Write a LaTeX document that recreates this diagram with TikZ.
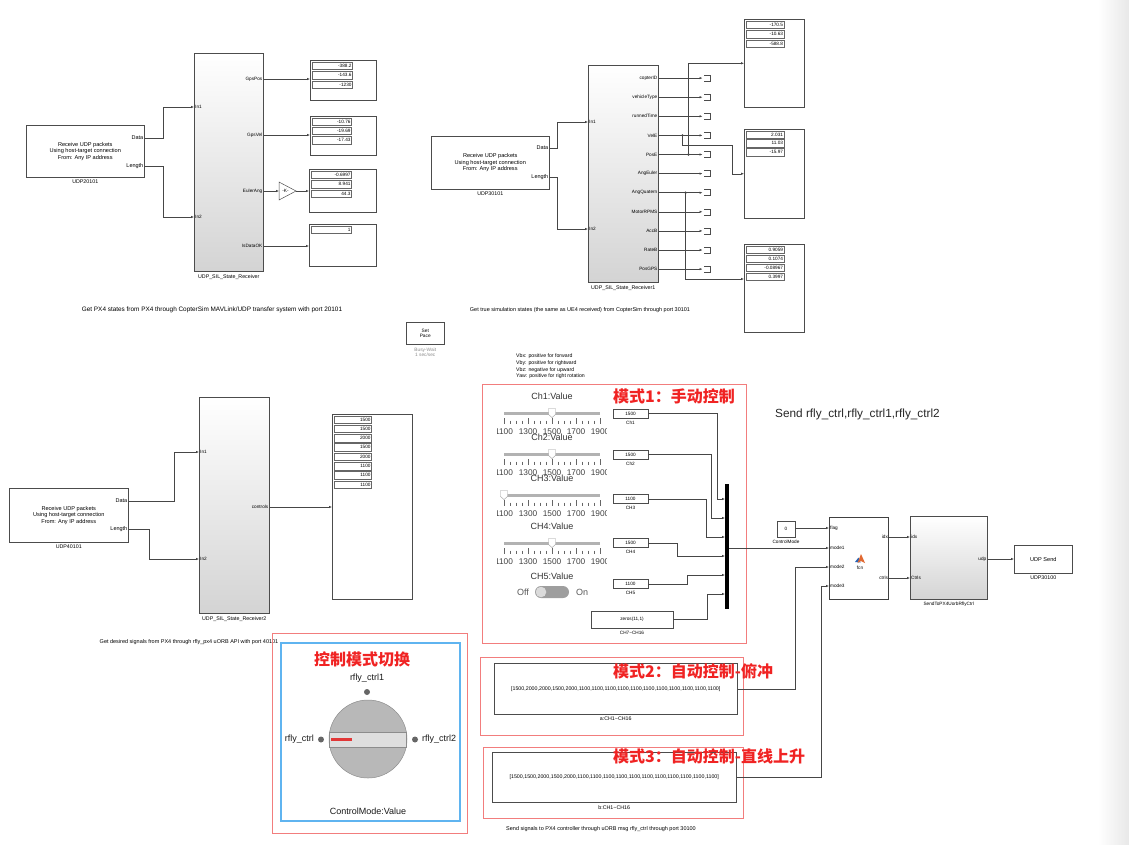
\documentclass[tikz,border=0pt]{standalone}
\usepackage{fontspec}
\setmainfont{Liberation Sans}
\newfontfamily\cjk{Noto Sans CJK SC}
\usetikzlibrary{arrows.meta,calc}
\definecolor{panelred}{RGB}{242,125,125}
\definecolor{titlered}{RGB}{240,35,35}
\definecolor{knobblue}{RGB}{95,180,240}
\definecolor{wiregray}{RGB}{70,70,70}
\definecolor{matorange}{RGB}{225,105,50}
\definecolor{matblue}{RGB}{40,100,180}
\definecolor{knobred}{RGB}{225,55,55}

\begin{document}
\begin{tikzpicture}[x=1pt, y=-1pt, >={Latex[length=3pt,width=2.4pt]}]
\tikzset{
  blk/.style={draw=black!70, line width=0.5pt, fill=white, inner sep=0pt, anchor=north west, align=center, font=\fontsize{5.6}{6.5}\selectfont},
  rcv/.style={blk, top color=white, middle color=white, bottom color=black!17},
  disp/.style={draw=black!70, line width=0.5pt, inner sep=0pt, anchor=north west},
  cell/.style={draw=black!60, line width=0.4pt, inner sep=0.8pt, text width=#1pt, minimum height=7.5pt, align=right, anchor=north west, font=\fontsize{4.7}{4.7}\selectfont},
  pin/.style={inner sep=1pt, anchor=west, font=\fontsize{4.7}{4.7}\selectfont},
  pout/.style={inner sep=1pt, anchor=east, font=\fontsize{4.7}{4.7}\selectfont},
  udpport/.style={pout, font=\fontsize{5.5}{5.5}\selectfont},
  lbl/.style={font=\fontsize{5.3}{6}\selectfont, inner sep=0pt, anchor=north},
  note/.style={font=\fontsize{5.5}{6.5}\selectfont, inner sep=0pt},
  wire/.style={draw=wiregray, line width=0.5pt},
  const/.style={blk, anchor=center, font=\fontsize{4.7}{4.7}\selectfont},
  panel/.style={draw=panelred, line width=0.8pt},
  redtitle/.style={text=titlered, font=\cjk\bfseries\fontsize{16}{16}\selectfont, inner sep=0pt, anchor=west},
  dashtxt/.style={font=\fontsize{9}{9}\selectfont, inner sep=0pt, text=black!80},
  ticktxt/.style={font=\fontsize{8.3}{8.3}\selectfont, inner sep=0pt, text=black!75},
  dot/.style={fill=black!60},
  junc/.style={fill=wiregray},
}
\useasboundingbox (0,0) rectangle (1129,844);
\shade[left color=white, right color=black!9] (1098,0) rectangle (1129,844);

% ---- PX4 states, port 20101
\node[blk, minimum width=118pt, minimum height=52pt] (udpA) at (26,125) {Receive UDP packets\\Using host-target connection\\From: Any IP address};
\node[lbl] at ($(udpA.south)+(0,2.5)$) {UDP20101};
\node[udpport] (pDataA) at (udpA.east |- 0,138) {Data};
\node[udpport] (pLenA) at (udpA.east |- 0,166) {Length};
\node[rcv, minimum width=69pt, minimum height=218pt] (rxA) at (194,53) {};
\node[lbl] at ($(rxA.south)+(0,2.5)$) {UDP\_SIL\_State\_Receiver};
\node[pin] (pIn1A) at (rxA.west |- 0,107) {In1};
\node[pin] (pIn2A) at (rxA.west |- 0,217) {In2};
\foreach \nm/\yy in {GpsPos/79, GpsVel/135, EulerAng/191, IsDataOK/246}
  \node[pout] (p\nm) at (rxA.east |- 0,\yy) {\nm};
\draw[wire,->] (pDataA.east) -- ++(19,0) |- (pIn1A.west);
\draw[wire,->] (pLenA.east) -- ++(19,0) |- (pIn2A.west);

\node[disp, minimum width=66pt, minimum height=40pt] (dA1) at (310,60) {};
\node[disp, minimum width=66pt, minimum height=39pt] (dA2) at (310,116) {};
\node[disp, minimum width=67pt, minimum height=43pt] (dA3) at (309,169) {};
\node[disp, minimum width=67pt, minimum height=42pt] (dA4) at (309,224) {};

\draw[black!70, line width=0.5pt, fill=white] (279,182) -- (296,191) -- (279,200) -- cycle;
\node[font=\fontsize{4.7}{4.7}\selectfont, inner sep=0pt] (gainA) at (285.5,191) {-K-};
\coordinate (gainIn) at (279,191);
\coordinate (gainOut) at (296,191);

\draw[wire,->] (pGpsPos.east) -- (pGpsPos.east -| dA1.west);
\draw[wire,->] (pGpsVel.east) -- (pGpsVel.east -| dA2.west);
\draw[wire,->] (pEulerAng.east) -- (gainIn);
\draw[wire,->] (gainOut) -- (gainOut -| dA3.west);
\draw[wire,->] (pIsDataOK.east) -- (pIsDataOK.east -| dA4.west);
\node[note, font=\fontsize{6.4}{7}\selectfont] (capA) at (212,310) {Get PX4 states from PX4 through CopterSim MAVLink/UDP transfer system with port 20101};

% ---- true states, port 30101
\node[blk, minimum width=118pt, minimum height=53pt] (udpB) at (431,136) {Receive UDP packets\\Using host-target connection\\From: Any IP address};
\node[lbl] at ($(udpB.south)+(0,2.5)$) {UDP30101};
\node[udpport] (pDataB) at (udpB.east |- 0,148) {Data};
\node[udpport] (pLenB) at (udpB.east |- 0,177) {Length};
\node[rcv, minimum width=70pt, minimum height=217pt] (rxB) at (588,65) {};
\node[lbl] at ($(rxB.south)+(0,2.5)$) {UDP\_SIL\_State\_Receiver1};
\node[pin] (pIn1B) at (rxB.west |- 0,122) {In1};
\node[pin] (pIn2B) at (rxB.west |- 0,229) {In2};
\draw[wire,->] (pDataB.east) -- ++(8,0) |- (pIn1B.west);
\draw[wire,->] (pLenB.east) -- ++(8,0) |- (pIn2B.west);
\foreach \nm [count=\i] in {copterID, vehicleType, runnedTime, VelE, PosE, AngEuler, AngQuatern, MotorRPMS, AccB, RateB, PosGPS} {
  \pgfmathsetmacro\yy{59+19.1*\i}
  \node[pout] (p\nm) at (rxB.east |- 0,\yy) {\nm};
  \coordinate (t\nm) at ($(p\nm.east)+(44,0)$);
  \draw[wire,->] (p\nm.east) -- (t\nm);
  \draw[black!70, line width=0.5pt] ($(t\nm)+(1.5,-3)$) -- ++(6,0) -- ++(0,6) -- ++(-6,0);
}
\node[disp, minimum width=60pt, minimum height=88pt] (dB1) at (744,19) {};
\node[disp, minimum width=60pt, minimum height=89pt] (dB2) at (744,129) {};
\node[disp, minimum width=60pt, minimum height=88pt] (dB3) at (744,244) {};
\coordinate (jPos) at ($(pPosE.east)+(30,0)$);
\coordinate (jVel) at ($(pVelE.east)+(24,0)$);
\coordinate (jQuat) at ($(pAngQuatern.east)+(27,0)$);
\draw[wire,->] (jPos) |- (dB1.west);
\draw[wire,->] (jVel) -- ++(0,10) -- ++(50,0) |- (dB2.west);
\draw[wire,->] (jQuat) |- (dB3.west |- 0,279);
\foreach \j in {jPos,jVel,jQuat} \fill[junc] (\j) circle (1.3);
\node[note] (capB) at (580,310) {Get true simulation states (the same as UE4 received) from CopterSim through port 30101};

\node[blk, minimum width=38pt, minimum height=22pt, font=\fontsize{4.8}{5.2}\selectfont] (pace) at (406,322) {Set\\Pace};
\node[lbl, text=black!45, align=center, font=\fontsize{4.8}{5.8}\selectfont] at ($(pace.south)+(0,3)$) {Busy-Wait\\1 sec/sec};

% ---- desired signals, port 40101
\node[blk, minimum width=119pt, minimum height=54pt] (udpC) at (9,488) {Receive UDP packets\\Using host-target connection\\From: Any IP address};
\node[lbl] at ($(udpC.south)+(0,2.5)$) {UDP40101};
\node[udpport] (pDataC) at (udpC.east |- 0,501) {Data};
\node[udpport] (pLenC) at (udpC.east |- 0,529) {Length};
\node[rcv, minimum width=70pt, minimum height=216pt] (rxC) at (199,397) {};
\node[lbl] at ($(rxC.south)+(0,2.5)$) {UDP\_SIL\_State\_Receiver2};
\node[pin] (pIn1C) at (rxC.west |- 0,452) {In1};
\node[pin] (pIn2C) at (rxC.west |- 0,559) {In2};
\node[pout] (pControls) at (rxC.east |- 0,507) {controls};
\draw[wire,->] (pDataC.east) -- ++(46,0) |- (pIn1C.west);
\draw[wire,->] (pLenC.east) -- ++(21,0) |- (pIn2C.west);
\node[disp, minimum width=80pt, minimum height=185pt] (dC) at (332,414) {};
\draw[wire,->] (pControls.east) -- (pControls.east -| dC.west);
\node[note] (capC) at (189,642) {Get desired signals from PX4 through rfly\_px4 uORB API with port 40101};

% display values
\foreach \d/\w/\dy/\vals in {dA1/39/9.6/{-388.2,-143.6,-1230}, dA2/38/9.3/{-10.76,-19.69,-17.43}, dA3/39/9.6/{-0.6997,8.941,44.3}, dA4/39/9.5/{1},
    dB1/36.5/9.5/{-170.5,-10.63,-588.8}, dB2/36.5/8.8/{2.031,11.03,-15.97}, dB3/36.5/9/{0.9059,0.1074,-0.08967,0.3997},
    dC/36/9.3/{1500,1500,2000,1500,2000,1100,1100,1100}}
  \foreach \v [count=\i] in \vals
    \node[cell=\w] at ($(\d.north west)+(1.5,{1.5+\dy*(\i-1)})$) {\v};

% ---- mode 1: manual
\node[font=\fontsize{5.2}{6.6}\selectfont, align=left, anchor=north west, inner sep=0pt] (vnote) at (516,354) {Vbx: positive for forward\\Vby: positive for rightward\\Vbz: negative for upward\\Yaw: positive for right rotation};
\draw[panel] (482,384) rectangle (746,643);
\node[redtitle] (tMode1) at (613,396) {模式1：手动控制};
\foreach \nm/\ty/\tv in {Ch1/396/1500, Ch2/437/1500, CH3/478/1100, CH4/526/1500} {
  \pgfmathsetmacro\thx{504+(\tv-1100)*0.12}
  \node[dashtxt] (s\nm) at (552,\ty) {\nm:Value};
  \draw[line width=3pt, black!30] (504,\ty+17) -- (600,\ty+17);
  \draw[fill=white, draw=black!40, line width=0.4pt] (\thx-3.5,\ty+12.5) -- (\thx+3.5,\ty+12.5) -- (\thx+3.5,\ty+18.5) -- (\thx,\ty+21.5) -- (\thx-3.5,\ty+18.5) -- cycle;
  \foreach \k in {0,...,16} {
    \pgfmathsetmacro\tkh{ifthenelse(mod(\k,4)==0,22,24.5)}
    \draw[black!60, line width=0.4pt] (504+6*\k,\ty+\tkh) -- (504+6*\k,\ty+28);
  }
  \begin{scope}
    \clip (497,\ty+30) rectangle (606.5,\ty+42);
    \foreach \k in {0,...,4} {
      \pgfmathtruncatemacro\tl{1100+200*\k}
      \node[ticktxt] at (504+24*\k,\ty+36) {\tl};
    }
  \end{scope}
}
\node[dashtxt] (sCH5) at (552,576) {CH5:Value};
\node[dashtxt, text=black!65] (tOff) at (523,592) {Off};
\node[dashtxt, text=black!65] (tOn) at (582,592) {On};
\fill[black!38, rounded corners=6pt] (535,586) rectangle (569,598);
\fill[black!14] (541,592) circle (5.3);

\foreach \nm/\val/\yy in {Ch1/1500/413.5, Ch2/1500/454.5, CH3/1100/499, CH4/1500/543, CH5/1100/584} {
  \node[const, minimum width=35pt, minimum height=9pt] (c\nm) at (630.5,\yy) {\val};
  \node[lbl, font=\fontsize{4.7}{5}\selectfont] at ($(c\nm.south)+(0,2.5)$) {\nm};
}
\node[const, minimum width=82pt, minimum height=17pt] (cZero) at (632,619.5) {zeros(11,1)};
\node[lbl, font=\fontsize{4.7}{5}\selectfont] at ($(cZero.south)+(0,2.5)$) {CH7\textasciitilde CH16};
\node[fill=black, inner sep=0pt, minimum width=4pt, minimum height=125pt, anchor=north west] (mux) at (725,484) {};
\draw[wire,->] (cCh1.east) -- ++(69,0) |- (mux.west |- 0,499);
\draw[wire,->] (cCh2.east) -- ++(63,0) |- (mux.west |- 0,518);
\draw[wire,->] (cCH3.east) -- ++(58,0) |- (mux.west |- 0,537);
\draw[wire,->] (cCH4.east) -- ++(29,0) |- (mux.west |- 0,556);
\draw[wire,->] (cCH5.east) -- ++(39,0) |- (mux.west |- 0,575);
\draw[wire,->] (cZero.east) -- ++(34,0) |- (mux.west |- 0,594);

% ---- modes 2 and 3
\draw[panel] (480,657) rectangle (743,735);
\node[blk, minimum width=243pt, minimum height=51pt, font=\fontsize{5.3}{6}\selectfont] (aBlk) at (494,663) {[1500,2000,2000,1500,2000,1100,1100,1100,1100,1100,1100,1100,1100,1100,1100,1100]};
\node[lbl] at ($(aBlk.south)+(0,2.5)$) {a:CH1\textasciitilde CH16};
\node[redtitle] (tMode2) at (613,671) {模式2：自动控制-俯冲};
\draw[panel] (483,747) rectangle (743,818);
\node[blk, minimum width=244pt, minimum height=50pt, font=\fontsize{5.3}{6}\selectfont] (bBlk) at (492,752) {[1500,1500,2000,1500,2000,1100,1100,1100,1100,1100,1100,1100,1100,1100,1100,1100]};
\node[lbl] at ($(bBlk.south)+(0,2.5)$) {b:CH1\textasciitilde CH16};
\node[redtitle] (tMode3) at (613,756) {模式3：自动控制-直线上升};
\node[note] (capD) at (601,829) {Send signals to PX4 controller through uORB msg rfly\_ctrl through port 30100};

% ---- mode switch and sending
\node[font=\fontsize{11.8}{12}\selectfont, inner sep=0pt, anchor=west, text=black!85] (tSend) at (775,414) {Send rfly\_ctrl,rfly\_ctrl1,rfly\_ctrl2};
\node[const, minimum width=18pt, minimum height=16pt] (cMode) at (786,529) {0};
\node[lbl, font=\fontsize{4.7}{5}\selectfont] at ($(cMode.south)+(0,2.5)$) {ControlMode};
\node[blk, line width=1.1pt, draw=black!75, minimum width=59pt, minimum height=82pt] (fcn) at (829,517) {};
\foreach \nm/\yy in {flag/528, mode1/548, mode2/567, mode3/586}
  \node[pin] (p\nm) at (fcn.west |- 0,\yy) {\nm};
\node[pout] (pidxO) at (fcn.east |- 0,537) {idx};
\node[pout] (pctrlsO) at (fcn.east |- 0,578) {ctrls};
\fill[matblue] (855,562) -- (858.5,557.5) -- (860.5,562.5) -- cycle;
\fill[matorange] (857.5,563) -- (861,554) -- (865,563) -- (861,561) -- cycle;
\node[font=\fontsize{4.7}{4.7}\selectfont, inner sep=0pt] (tFcn) at (860,568) {fcn};
\node[rcv, minimum width=77pt, minimum height=83pt] (sendB) at (910,516) {};
\node[lbl, font=\fontsize{4.7}{5}\selectfont] at ($(sendB.south)+(0,2.5)$) {SendToPX4UorbRflyCtrl};
\node[pin] (pidxI) at (sendB.west |- 0,537) {idx};
\node[pin] (pCtrlsI) at (sendB.west |- 0,578) {Ctrls};
\node[pout] (pudp) at (sendB.east |- 0,559) {udp};
\node[blk, minimum width=58pt, minimum height=28pt] (udpS) at (1014,545) {UDP Send};
\node[lbl] at ($(udpS.south)+(0,2.5)$) {UDP30100};
\draw[wire,->] (cMode.east |- pflag.west) -- (pflag.west);
\draw[wire,->] (mux.east |- pmode1.west) -- (pmode1.west);
\draw[wire,->] (aBlk.east) -- ++(58,0) |- (pmode2.west);
\draw[wire,->] (bBlk.east) -- ++(85,0) |- (pmode3.west);
\draw[wire,->] (pidxO.east) -- (pidxI.west);
\draw[wire,->] (pctrlsO.east) -- (pCtrlsI.west);
\draw[wire,->] (pudp.east) -- (pudp.east -| udpS.west);

% ---- control mode knob
\draw[panel] (272,633) rectangle (467,833);
\draw[draw=knobblue, line width=2pt] (281,643) rectangle (460,821);
\node[text=titlered, font=\cjk\bfseries\fontsize{16}{16}\selectfont, inner sep=0pt] (tKnob) at (362,659) {控制模式切换};
\draw[fill=black!28, draw=black!45, line width=0.5pt] (368,739) circle (39);
\draw[fill=black!13, draw=black!45, line width=0.5pt] (329.5,732) rectangle (406.5,747);
\draw[knobred, line width=2.6pt] (331,739.5) -- (352,739.5);
\fill[dot] (367,692) circle (3);
\fill[dot] (321,739.5) circle (3);
\fill[dot] (415,739.5) circle (3);
\node[dashtxt, text=black!90] (kTop) at (367,678) {rfly\_ctrl1};
\node[dashtxt, text=black!90, anchor=east] (kLeft) at (314,739.5) {rfly\_ctrl};
\node[dashtxt, text=black!90, anchor=west] (kRight) at (422,739.5) {rfly\_ctrl2};
\node[dashtxt, text=black!90] (kVal) at (368,811) {ControlMode:Value};
\end{tikzpicture}
\end{document}
